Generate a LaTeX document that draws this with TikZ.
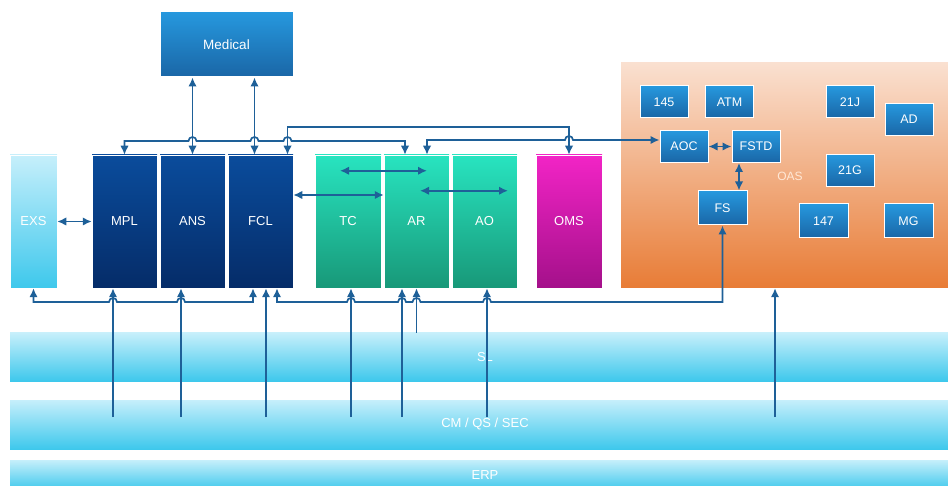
\documentclass[tikz,border=0pt]{standalone}
\usepackage{fontspec}
\setmainfont{Liberation Sans}
\usepackage{xcolor}
\usetikzlibrary{arrows.meta}
\usetikzlibrary{calc}

\definecolor{flowblue}{RGB}{30,96,152}
\definecolor{medtop}{RGB}{38,152,222}
\definecolor{medbot}{RGB}{26,102,166}
\definecolor{navytop}{RGB}{10,76,156}
\definecolor{navybot}{RGB}{5,44,104}
\definecolor{skytop}{RGB}{198,239,251}
\definecolor{skybot}{RGB}{62,200,236}
\definecolor{tealtop}{RGB}{40,228,192}
\definecolor{tealbot}{RGB}{24,152,120}
\definecolor{pinktop}{RGB}{242,36,198}
\definecolor{pinkbot}{RGB}{164,16,138}
\definecolor{oastop}{RGB}{250,224,208}
\definecolor{oasbot}{RGB}{232,124,54}
\definecolor{oastext}{RGB}{255,232,214}

\begin{document}
\begin{tikzpicture}[x=1pt, y=-1pt, >={Latex[length=9pt,width=8.5pt]},
  tall/.style={draw=white, line width=0.5pt, inner sep=0pt, minimum width=65pt,
    minimum height=133pt, text=white, font=\fontsize{13}{15}\selectfont},
  navy/.style={tall, top color=navytop, bottom color=navybot},
  teal/.style={tall, top color=tealtop, bottom color=tealbot},
  unit/.style={draw=white, line width=1pt, inner sep=0pt, minimum width=48pt,
    minimum height=32pt, top color=medtop, bottom color=medbot, text=white,
    font=\fontsize{12.5}{15}\selectfont},
  band/.style={inner sep=0pt, minimum width=950pt, top color=skytop,
    bottom color=skybot, text=white, font=\fontsize{13}{15}\selectfont},
  flow/.style={draw=flowblue, line width=1.7pt},
]
\useasboundingbox (0,0) rectangle (948,486);

% layers at the bottom
\node[band, minimum height=48pt] (SL) at (485,357) {SL};
\node[band, minimum height=49pt] (CM) at (485,424.5) {CM / QS / SEC};
\node[band, minimum height=30pt] (ERP) at (485,475) {ERP};

% top block
\node[unit, minimum width=133pt, minimum height=65pt, font=\fontsize{13.5}{15}\selectfont]
  (Medical) at (226.5,44.5) {Medical};

% columns
\node[tall, minimum width=47pt, top color=skytop, bottom color=skybot] (EXS) at (33.5,221.5) {EXS};
\node[navy] (MPL) at (124.5,221.5) {MPL};
\node[navy] (ANS) at (192.5,221.5) {ANS};
\node[navy] (FCL) at (260.5,221.5) {FCL};
\node[teal, minimum width=66pt] (TC) at (348,221.5) {TC};
\node[teal] (AR) at (416.5,221.5) {AR};
\node[teal] (AO) at (484.5,221.5) {AO};
\node[tall, minimum width=66pt, top color=pinktop, bottom color=pinkbot] (OMS) at (569,221.5) {OMS};

% OAS area
\node[inner sep=0pt, minimum width=327pt, minimum height=225pt, top color=oastop,
  bottom color=oasbot] (OAS) at (784.5,175.5) {};
\node[text=oastext, font=\fontsize{12}{14}\selectfont] (OASlabel) at (790,176) {OAS};
\node[unit] (U145) at (664,102) {145};
\node[unit] (ATM) at (729.5,102) {ATM};
\node[unit] (U21J) at (850,102) {21J};
\node[unit] (AD) at (909,119.5) {AD};
\node[unit] (AOC) at (684,146.5) {AOC};
\node[unit] (FSTD) at (756,146.5) {FSTD};
\node[unit] (U21G) at (850,170.5) {21G};
\node[unit, minimum width=49pt, minimum height=34pt] (FS) at (722.5,208) {FS};
\node[unit, minimum width=49pt, minimum height=34pt] (U147) at (823.5,221) {147};
\node[unit, minimum width=49pt, minimum height=34pt] (MG) at (908.5,221) {MG};

% levels of the buses
\coordinate (omsbus) at (0,127);
\coordinate (aocbus) at (0,140);
\coordinate (topbus) at (0,141);
\coordinate (lowbus) at (0,302);
\coordinate (cmtap) at (0,417);

% taps on the tops of the columns
\coordinate (fclT1) at ($(FCL.north)+(-6,0)$);
\coordinate (fclT2) at ($(FCL.north)+(27,0)$);
\coordinate (arT1) at ($(AR.north)+(-11.5,0)$);
\coordinate (arT2) at ($(AR.north)+(10.5,0)$);

% taps on the bottoms
\coordinate (mplB) at ($(MPL.south)+(-11.5,0)$);
\coordinate (ansB) at ($(ANS.south)+(-11.5,0)$);
\coordinate (fclB1) at ($(FCL.south)+(-7.5,0)$);
\coordinate (fclB2) at ($(FCL.south)+(5.5,0)$);
\coordinate (fclB3) at ($(FCL.south)+(16.5,0)$);
\coordinate (tcB) at ($(TC.south)+(3,0)$);
\coordinate (arB1) at ($(AR.south)+(-14.5,0)$);
\coordinate (arB2) at (AR.south);
\coordinate (aoB) at ($(AO.south)+(2.5,0)$);
\coordinate (oasB) at ($(OAS.south)+(-9.5,0)$);
\coordinate (fstdB) at ($(FSTD.south)+(-17,0)$);

% upper links
\draw[flow, <->] (MPL.north) |- ($(ANS.north |- topbus)+(-4,0)$) arc (180:360:4)
  -- ($(fclT1 |- topbus)+(-4,0)$) arc (180:360:4)
  -- ($(fclT2 |- topbus)+(-4,0)$) arc (180:360:4) -| (arT1);
\draw[flow, <->] (fclT2) -- (fclT2 |- omsbus) -| (OMS.north);
\draw[flow, <->] (arT2) |- ($(OMS.north |- aocbus)+(-4,0)$) arc (180:360:4)
  -- (AOC.west |- aocbus);
\draw[flow, <->] (Medical.south -| ANS.north) -- (ANS.north);
\draw[flow, <->] (Medical.south -| fclT1) -- (fclT1);

% links between the columns
\draw[flow, <->] (EXS.east) -- (MPL.west);
\draw[flow, <->] ($(FCL.east)+(0,-26.5)$) -- ($(AR.west)+(0,-26.5)$);
\draw[flow, <->] ($(TC.north)+(-8,16)$) -- ($(arT2)+(0,16)$);
\draw[flow, <->] ($(AR.north)+(3.5,36)$) -- ($(AO.north)+(23.5,36)$);
\draw[flow, <->] (AOC.east) -- (FSTD.west);
\draw[flow, <->] (fstdB) -- (fstdB |- FS.north);

% lower links
\draw[flow, <->] (EXS.south) |- ($(mplB |- lowbus)+(-4,0)$) arc (180:360:4)
  -- ($(ansB |- lowbus)+(-4,0)$) arc (180:360:4) -| (fclB1);
\draw[flow, <->] (fclB3) |- ($(tcB |- lowbus)+(-4,0)$) arc (180:360:4)
  -- ($(arB1 |- lowbus)+(-4,0)$) arc (180:360:4)
  -- ($(arB2 |- lowbus)+(-4,0)$) arc (180:360:4)
  -- ($(aoB |- lowbus)+(-4,0)$) arc (180:360:4) -| (FS.south);
\foreach \tap in {mplB, ansB, fclB2, tcB, arB1, aoB, oasB}
  \draw[flow, ->] (\tap |- cmtap) -- (\tap);
\draw[flow, ->] (arB2 |- SL.north) -- (arB2);
\end{tikzpicture}
\end{document}
